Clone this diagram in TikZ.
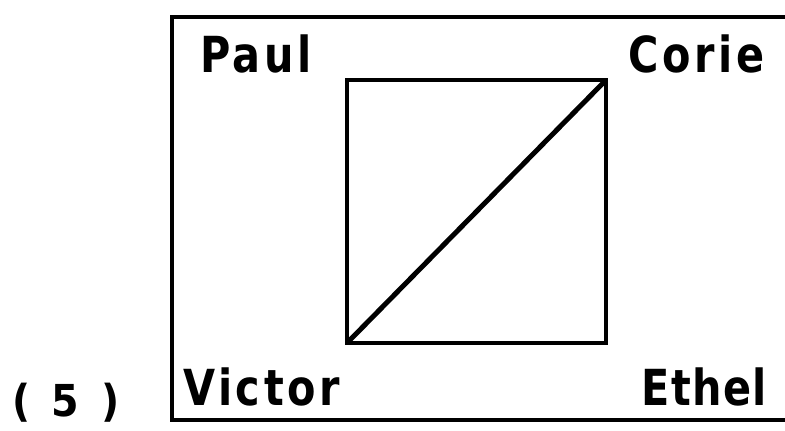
\documentclass[tikz,border=0pt]{standalone}
\usepackage{fontspec}
\newfontfamily\lblfont[LetterSpace=8]{DejaVu Sans Condensed Bold}
\newfontfamily\numfont[LetterSpace=18]{DejaVu Sans Condensed Bold}
\begin{document}
\begin{tikzpicture}[x=1pt,y=-1pt,
  lbl/.style={inner sep=0pt,anchor=base west,font=\lblfont\fontsize{46}{46}\selectfont},
  frame/.style={line width=4.2pt},
  diag/.style={line width=5pt}]
\useasboundingbox (0,0) rectangle (785,431);
\draw[frame] (787,17) -- (172,17) -- (172,420) -- (787,420);
\coordinate (tl) at (347,80);
\coordinate (br) at (606,343);
\draw[frame] (tl) rectangle (br);
\draw[diag] (tl |- br) -- (br |- tl);
\node[lbl] (paul) at (200,72) {\scalebox{1}[1.08]{Paul}};
\node[lbl] (corie) at (628,72) {\scalebox{1}[1.08]{Corie}};
\node[lbl] (victor) at (183,405) {\scalebox{1}[1.08]{Victor}};
\node[lbl,anchor=base east] (ethel) at (767,405) {\scalebox{1}[1.08]{\addfontfeature{LetterSpace=3}Ethel}};
\node[lbl,font=\numfont\fontsize{44}{44}\selectfont] (num) at (12,416) {\scalebox{1}[1]{( 5 )}};
\end{tikzpicture}
\end{document}
